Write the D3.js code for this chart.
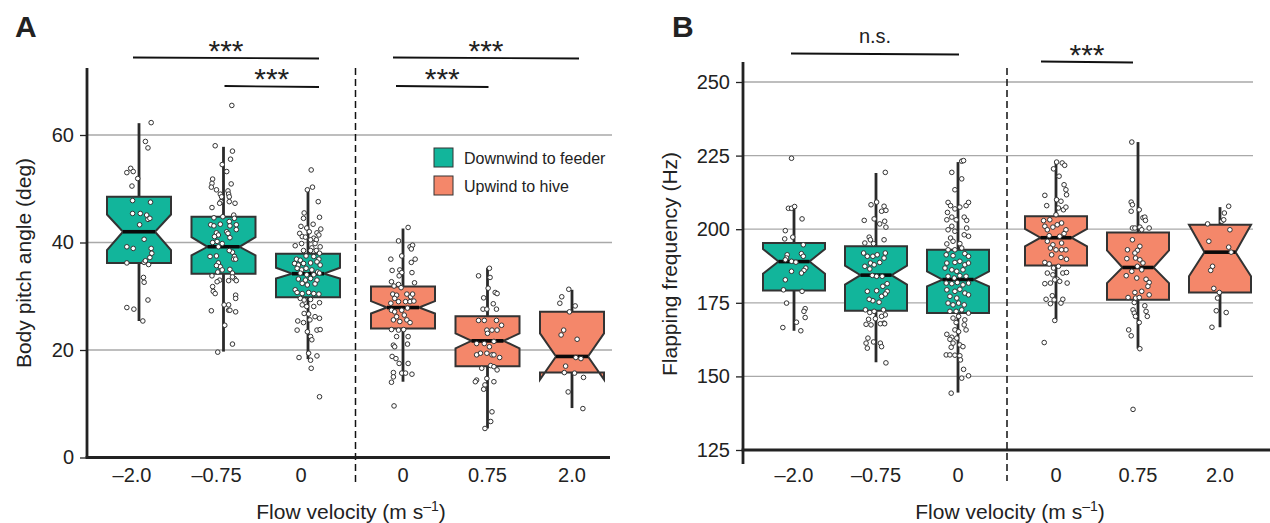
<!DOCTYPE html>
<html><head><meta charset="utf-8">
<script src="https://cdn.jsdelivr.net/npm/d3@7"></script>
<style>
body{margin:0;background:#fff}
svg{display:block}
text{font-family:"Liberation Sans",Arial,Helvetica,sans-serif;fill:#222}
</style>
</head><body>
<svg id="chart" width="1270" height="523"></svg>
<script>
// ---------------- DATA ----------------
const catsDown = ["\u20132.0", "\u20130.75", "0"];
const catsUp = ["0", "0.75", "2.0"];
const groupNames = ["Downwind to feeder", "Upwind to hive"];
const yTicksA = [0, 20, 40, 60];
const yTicksB = [125, 150, 175, 200, 225, 250];

// Panel A: body pitch angle (deg), six boxes: 3 downwind then 3 upwind
const pitchQ1   = [36.2, 34.2, 29.8, 24.0, 17.0, 15.8];
const pitchMed  = [42.0, 39.2, 34.2, 27.9, 21.7, 18.8];
const pitchQ3   = [48.5, 44.8, 37.9, 31.8, 26.3, 27.1];
const pitchWLo  = [25.4, 19.7, 18.3, 14.1, 5.4, 9.2];
const pitchWHi  = [62.2, 57.8, 49.8, 42.6, 35.3, 31.2];
const pitchNLo  = [38.6, 37.6, 33.3, 26.8, 20.3, 14.5];
const pitchNHi  = [45.2, 41.0, 35.3, 29.1, 23.1, 23.1];

// Panel B: flapping frequency (Hz)
const freqQ1  = [179.2, 172.3, 171.5, 187.7, 176.0, 178.5];
const freqMed = [189.0, 184.4, 182.9, 197.1, 187.0, 192.2];
const freqQ3  = [195.3, 194.2, 193.0, 204.4, 198.9, 201.5];
const freqWLo = [165.5, 154.8, 144.5, 169.2, 159.4, 166.7];
const freqWHi = [207.0, 219.1, 222.8, 222.8, 229.6, 207.5];
const freqNLo = [184.9, 181.2, 180.6, 194.2, 181.7, 184.0];
const freqNHi = [193.3, 187.6, 185.7, 200.1, 192.8, 201.5];

// individual points: [jitter (fraction of box width), value]
const pitchPoints = [
 [[.19,62.3],[.10,58.8],[.14,57.6],[-.13,53.8],[-.19,53.0],[-.09,53.2],[-.02,51.9],[-.11,50.5],[-.10,47.8],[.18,47.5],[-.10,45.4],[.02,45.4],[.12,45.1],[.14,44.3],[.17,44.5],[.01,43.3],[.08,40.6],[-.19,39.2],[-.09,38.9],[.19,38.9],[.20,38.0],[.17,37.2],[-.19,36.2],[.08,36.3],[.15,35.9],[.10,36.6],[.07,33.5],[.08,32.6],[.14,29.3],[-.19,27.9],[-.08,27.6],[.06,25.4]],
 [[.13,65.5],[-.13,58.0],[.14,57.0],[.11,55.5],[-.02,54.5],[.05,53.2],[.12,50.9],[-.17,51.8],[-.18,51.0],[-.19,50.3],[-.11,49.8],[.07,49.6],[.08,49.0],[.09,48.5],[-.05,49.0],[-.03,48.5],[.18,47.3],[.09,47.6],[-.04,47.6],[-.06,47.3],[-.18,46.5],[.16,45.1],[.17,44.5],[-.15,44.6],[-.01,44.8],[.20,43.3],[.20,42.4],[.09,43.9],[.10,43.1],[-.20,43.3],[-.15,43.1],[-.05,43.4],[-.11,41.8],[-.08,41.4],[-.14,41.1],[.05,42.0],[.07,41.7],[.10,40.9],[-.10,40.2],[-.02,39.8],[-.17,40.0],[-.08,39.2],[.14,38.2],[.09,38.5],[.17,37.4],[-.11,37.5],[-.21,37.4],[.16,36.9],[.19,36.9],[-.08,36.2],[-.05,35.5],[-.11,35.7],[-.02,34.9],[-.18,33.8],[-.09,34.5],[.10,35.0],[.14,34.3],[.17,33.3],[.08,32.9],[-.06,33.0],[-.10,32.7],[.20,32.9],[.14,33.6],[-.17,31.8],[-.16,30.9],[-.13,30.5],[.19,30.2],[.19,29.6],[.08,28.4],[.01,28.4],[.08,27.4],[.19,27.1],[-.19,27.3],[.10,27.4],[.02,24.6],[.14,21.1],[-.09,19.6]],
 [[.05,53.5],[-.01,49.8],[.07,50.3],[.16,47.6],[-.06,45.5],[-.07,44.5],[.18,44.7],[.08,43.4],[-.11,43.0],[-.02,42.7],[.20,42.5],[-.13,41.7],[.02,42.0],[.14,41.8],[.17,41.4],[-.09,41.1],[-.04,41.0],[.09,40.8],[.04,40.5],[.13,40.5],[-.20,39.4],[-.10,39.8],[.11,39.8],[.19,39.2],[.06,39.0],[-.07,38.5],[.04,38.5],[.13,38.5],[.18,38.0],[-.18,36.9],[-.12,36.7],[-.03,37.5],[.09,37.4],[.17,36.9],[-.21,36.1],[-.15,35.8],[-.07,36.1],[.04,36.2],[.14,36.4],[.19,35.8],[-.17,35.2],[-.10,34.9],[-.03,35.2],[.06,34.9],[.15,34.5],[-.12,34.3],[-.02,34.0],[.09,34.0],[.18,34.3],[-.15,33.2],[-.04,33.0],[.04,33.3],[.14,33.0],[-.09,32.4],[-.01,32.1],[.11,32.3],[-.20,31.2],[-.17,30.7],[-.09,30.5],[.01,30.7],[.09,30.5],[.17,30.4],[-.12,29.6],[-.06,29.3],[.04,29.4],[.18,28.8],[-.09,28.4],[-.02,28.1],[.09,28.1],[-.06,26.8],[.01,26.7],[.11,26.2],[.18,25.9],[-.16,25.4],[-.07,25.1],[.03,25.6],[-.17,23.7],[.14,23.7],[.19,23.8],[-.01,23.4],[.04,22.5],[.06,21.9],[.01,19.4],[-.14,18.6],[.14,18.9],[.04,18.1],[.05,16.6],[.18,11.3]],
 [[.08,42.8],[-.07,40.3],[.11,39.2],[.15,39.5],[.13,38.8],[-.19,36.9],[-.02,37.5],[.19,36.9],[.13,36.3],[-.17,34.8],[-.05,34.9],[-.02,34.4],[-.06,33.8],[.14,34.4],[.18,32.5],[-.18,32.7],[-.14,31.9],[-.07,32.2],[-.03,31.6],[-.16,30.4],[-.10,30.2],[.06,30.4],[.12,29.9],[.15,30.4],[-.13,29.6],[-.19,28.7],[-.07,29.0],[.04,29.0],[.11,29.0],[.17,29.1],[-.18,27.4],[-.13,27.1],[-.02,27.4],[.07,27.8],[.02,26.5],[-.10,26.2],[-.15,25.6],[-.05,25.3],[.06,25.6],[.11,25.1],[-.18,23.8],[-.07,23.7],[.01,23.8],[-.10,22.5],[.08,22.5],[-.15,20.9],[-.13,20.6],[.07,21.1],[-.17,18.8],[-.11,18.4],[-.06,17.5],[.08,17.5],[-.15,15.8],[-.02,15.7],[.04,15.7],[.14,15.5],[-.15,15.0],[-.18,14.0],[-.14,9.6]],
 [[.03,35.2],[-.14,33.8],[.04,33.5],[.12,30.7],[.15,30.5],[-.06,29.7],[.01,31.5],[.09,28.6],[-.07,27.6],[-.01,27.6],[.14,27.6],[-.14,25.5],[-.05,25.5],[.14,25.5],[.22,24.6],[.15,23.7],[.07,23.7],[-.01,23.7],[.00,23.1],[-.17,21.2],[-.05,21.2],[.10,21.6],[.03,20.6],[-.11,19.4],[-.17,19.1],[-.01,19.4],[.07,19.1],[.10,19.1],[.19,18.6],[.05,17.1],[.10,16.9],[-.09,16.6],[.15,16.3],[-.17,14.4],[-.19,14.1],[-.01,14.7],[.10,14.1],[-.04,13.5],[-.06,12.7],[.07,8.5],[.05,6.7],[-.04,5.4]],
 [[-.05,31.3],[-.16,29.9],[-.19,28.7],[-.04,27.1],[.05,28.2],[-.13,23.7],[-.17,22.8],[.08,22.0],[.06,18.6],[.14,18.4],[-.10,17.0],[-.12,15.8],[.04,15.7],[.18,14.9],[-.06,12.2],[.17,9.1]]
];

const freqPoints = [
 [[-.04,224.1],[-.09,207.1],[-.04,207.1],[.01,207.7],[.13,203.5],[-.14,199.5],[-.02,197.3],[-.15,196.7],[.15,194.7],[-.11,191.3],[-.12,190.2],[-.14,189.6],[-.04,189.1],[.03,188.8],[.12,191.7],[.15,190.8],[.19,186.8],[.16,186.0],[.12,185.1],[-.04,185.7],[-.14,182.8],[-.17,179.4],[.13,178.9],[-.12,174.9],[.18,173.0],[.16,172.1],[.18,170.0],[.04,168.4],[-.18,166.6],[.11,165.5]],
 [[.15,219.3],[-.08,208.3],[.01,209.2],[.13,207.8],[.16,206.4],[.09,206.1],[-.19,203.0],[-.03,203.5],[.14,202.7],[.16,200.7],[.06,201.8],[-.11,197.3],[-.09,196.4],[-.18,195.3],[-.04,195.1],[.13,196.4],[-.20,191.9],[-.14,190.8],[-.05,190.8],[.02,191.3],[.15,191.9],[.13,190.2],[-.09,188.5],[-.03,187.9],[.06,188.7],[-.18,187.4],[-.10,186.5],[-.06,184.3],[.01,184.0],[.10,184.0],[.18,181.5],[.11,180.6],[-.14,178.9],[.01,179.1],[.18,178.9],[.15,178.0],[.09,177.2],[-.05,175.7],[.05,175.2],[-.11,176.2],[-.17,172.6],[-.10,171.7],[-.03,172.1],[.12,172.6],[.15,170.9],[-.12,169.4],[-.01,169.6],[.09,170.4],[.13,168.1],[-.16,167.7],[-.08,167.5],[.07,167.9],[.14,167.9],[-.13,163.0],[-.16,161.3],[-.04,161.7],[.07,161.3],[-.14,159.6],[.09,160.1],[.16,154.6]],
 [[-.10,219.3],[.06,223.1],[.09,223.3],[.06,217.1],[-.05,213.4],[-.16,209.1],[-.12,208.0],[-.05,206.9],[.03,207.5],[.13,208.0],[.17,209.1],[-.17,205.7],[-.10,204.1],[-.18,203.2],[-.03,203.2],[.10,204.1],[.14,203.0],[-.10,201.0],[-.16,199.8],[-.05,199.3],[.14,200.4],[.10,198.1],[-.12,197.0],[-.08,195.9],[-.18,195.0],[.03,195.1],[.17,197.6],[-.16,193.0],[-.05,193.0],[.06,193.6],[-.19,191.3],[-.08,191.0],[.11,191.7],[.17,190.8],[-.18,188.5],[-.05,188.7],[.03,189.1],[.11,187.9],[.17,188.5],[-.21,186.8],[-.10,186.2],[-.02,185.7],[.08,186.2],[-.16,184.0],[-.06,183.4],[.03,184.2],[.13,184.0],[-.19,181.7],[-.10,181.5],[-.01,181.9],[.08,181.1],[.17,181.7],[-.18,179.4],[-.05,178.9],[.03,179.6],[.11,178.3],[-.13,177.2],[-.02,176.6],[.17,177.7],[-.16,174.9],[-.08,174.3],[.01,174.9],[.10,174.3],[-.13,172.1],[-.03,172.1],[.06,172.6],[.17,171.5],[-.08,169.8],[.01,170.4],[.11,169.2],[-.03,168.3],[.10,167.5],[-.05,165.8],[.13,165.8],[.01,165.2],[-.18,164.3],[-.10,163.3],[-.02,163.0],[-.13,162.6],[-.08,161.3],[.03,160.7],[-.11,159.9],[.08,160.1],[-.19,157.3],[-.13,157.3],[-.05,157.2],[.03,157.0],[.04,155.6],[.06,149.4],[.17,150.2],[-.11,144.3],[.09,152.4]],
 [[.01,222.8],[.10,222.5],[.14,221.7],[-.04,220.5],[.05,218.0],[-.18,211.5],[.17,211.7],[.13,215.1],[.16,213.4],[.01,210.0],[.08,209.5],[-.15,208.0],[.04,207.2],[.12,206.6],[.16,207.5],[.00,204.9],[-.10,203.2],[-.20,202.9],[-.18,201.0],[-.14,199.8],[-.05,200.7],[.02,201.5],[.09,202.1],[.16,199.8],[.06,197.6],[.13,198.5],[-.11,197.8],[-.14,195.9],[-.05,194.7],[.09,195.3],[.16,193.0],[-.09,193.6],[.00,193.0],[.09,193.0],[.17,189.8],[.08,190.4],[-.07,191.3],[-.18,188.7],[-.11,188.2],[.04,187.4],[-.04,186.8],[-.14,185.1],[-.05,184.5],[.11,185.1],[.17,185.3],[.02,183.0],[.06,182.3],[-.02,182.8],[-.18,181.5],[-.09,181.7],[.18,181.7],[-.16,176.2],[-.06,177.4],[-.09,174.7],[.08,174.9],[.11,176.2],[-.03,176.0],[-.02,169.0],[-.19,161.5]],
 [[-.10,229.6],[-.11,209.2],[-.09,208.3],[-.11,206.1],[.02,206.6],[.08,203.9],[.11,204.1],[.12,203.0],[-.09,200.4],[-.05,200.4],[.03,200.7],[.18,200.4],[.06,199.8],[-.09,196.4],[.03,194.2],[-.01,192.8],[-.17,193.0],[-.05,191.9],[-.18,190.0],[-.04,190.2],[.03,189.6],[.08,188.5],[-.01,187.4],[.06,186.2],[-.10,185.7],[-.19,184.2],[-.02,183.4],[.13,183.0],[.18,181.9],[.16,180.6],[.06,178.9],[-.05,178.5],[.18,177.7],[-.16,176.8],[-.04,176.6],[.02,176.8],[-.06,175.1],[.11,174.0],[-.08,172.6],[-.06,171.5],[-.04,170.4],[.13,172.1],[.15,170.4],[.02,168.3],[-.15,165.8],[-.11,163.8],[.03,159.4],[-.08,138.8]],
 [[.14,207.8],[.07,205.5],[.03,202.7],[.06,203.2],[-.20,201.8],[.16,199.8],[-.18,195.9],[.14,193.9],[.18,192.2],[-.12,187.4],[-.15,186.0],[-.10,179.9],[-.01,178.5],[-.04,176.6],[-.06,172.3],[.10,171.7],[-.13,166.7]]
];

// significance brackets: [from box index, to box index, label, level]
const sigA = [[0, 2, "***", 0], [1, 2, "***", 1], [3, 5, "***", 0], [3, 4, "***", 1]];
const sigB = [[0, 2, "n.s.", 0], [3, 4, "***", 1]];

// ---------------- LAYOUT / STYLE ----------------
// bracket end offsets (px) relative to the box centres
const sigPadA = [[-6, 11], [1, 11], [-10, 7], [-7, 1]];
const sigPadB = [[-3, 1], [-15, -5]];
const colors = ["#12b59b", "#f4876a"];
const ink = "#222";
const font = '"Liberation Sans",Arial,Helvetica,sans-serif';

const svg = d3.select("#chart");

function drawPanel(cfg) {
  const g = svg.append("g");
  const y = cfg.y;
  const xL = d3.scalePoint().domain(catsDown).range(cfg.leftRange);
  const xR = d3.scalePoint().domain(catsUp).range(cfg.rightRange);
  const allCats = catsDown.map(c => ({c, g: 0, x: xL(c)}))
    .concat(catsUp.map(c => ({c, g: 1, x: xR(c)})));
  const w = cfg.boxW;

  // gridlines
  g.selectAll(".grid").data(cfg.ticks.filter(t => t !== cfg.ticks[0])).enter()
    .append("line")
    .attr("x1", cfg.axisX).attr("x2", cfg.gridRight)
    .attr("y1", d => y(d)).attr("y2", d => y(d))
    .attr("stroke", "#a9a9a9").attr("stroke-width", 1.3);

  // y axis ticks and labels
  const ax = g.append("g").attr("transform", `translate(${cfg.axisX},0)`)
    .call(d3.axisLeft(y).tickValues(cfg.ticks).tickSize(7).tickPadding(6).tickFormat(d3.format("d")));
  ax.select(".domain").remove();
  ax.selectAll(".tick line").attr("stroke", ink).attr("stroke-width", 1.3);
  ax.selectAll(".tick text").attr("font-family", font).attr("font-size", 20).attr("fill", ink);

  // dashed divider
  const divX = (xL(catsDown[2]) + xR(catsUp[0])) / 2;
  g.append("line").attr("x1", divX).attr("x2", divX)
    .attr("y1", cfg.dashTop).attr("y2", cfg.dashBottom)
    .attr("stroke", "#111").attr("stroke-width", 1.5).attr("stroke-dasharray", "7,4");

  // whiskers
  allCats.forEach((d, i) => {
    const s = cfg.stats;
    g.append("line").attr("x1", d.x).attr("x2", d.x)
      .attr("y1", y(s.q3[i])).attr("y2", y(s.wHi[i]))
      .attr("stroke", "#2a2a2a").attr("stroke-width", 2.8);
    g.append("line").attr("x1", d.x).attr("x2", d.x)
      .attr("y1", y(s.q1[i])).attr("y2", y(s.wLo[i]))
      .attr("stroke", "#2a2a2a").attr("stroke-width", 2.8);
  });

  // notched boxes
  allCats.forEach((d, i) => {
    const s = cfg.stats;
    const L = d.x - w / 2, R = d.x + w / 2, cl = d.x - w / 4, cr = d.x + w / 4;
    const pts = [[L, s.q1[i]], [R, s.q1[i]], [R, s.nLo[i]], [cr, s.med[i]], [R, s.nHi[i]], [R, s.q3[i]],
                 [L, s.q3[i]], [L, s.nHi[i]], [cl, s.med[i]], [L, s.nLo[i]]];
    g.append("path")
      .attr("d", "M" + pts.map(p => p[0] + "," + y(p[1])).join("L") + "Z")
      .attr("fill", colors[d.g]).attr("stroke", "#333").attr("stroke-width", 2)
      .attr("stroke-linejoin", "miter");
    g.append("line").attr("x1", cl).attr("x2", cr)
      .attr("y1", y(s.med[i])).attr("y2", y(s.med[i]))
      .attr("stroke", "#0a0a0a").attr("stroke-width", 3.6);
  });

  // points
  allCats.forEach((d, i) => {
    g.selectAll(null).data(cfg.points[i]).enter().append("circle")
      .attr("cx", p => d.x + p[0] * w).attr("cy", p => y(p[1]))
      .attr("r", 2.3).attr("fill", "#fff").attr("stroke", "#333").attr("stroke-width", 1);
  });

  // axes lines
  g.append("line").attr("x1", cfg.axisX).attr("x2", cfg.axisX)
    .attr("y1", cfg.yAxisTop).attr("y2", cfg.yAxisBottom)
    .attr("stroke", ink).attr("stroke-width", 2.8);
  g.append("line").attr("x1", cfg.axisX - 1.4).attr("x2", cfg.xAxisRight)
    .attr("y1", y(cfg.ticks[0])).attr("y2", y(cfg.ticks[0]))
    .attr("stroke", ink).attr("stroke-width", 2.8);

  // x tick labels
  g.selectAll(".xl").data(allCats).enter().append("text")
    .attr("x", d => d.x + cfg.labelShift[d.g]).attr("y", cfg.xLabelY)
    .attr("text-anchor", "middle").attr("font-size", 20).text(d => d.c);

  // x title
  const t = g.append("text").attr("x", cfg.titleX).attr("y", cfg.titleY)
    .attr("text-anchor", "middle").attr("font-size", 21);
  t.append("tspan").text("Flow velocity (m s");
  t.append("tspan").attr("font-size", 14).attr("dy", -8).text("\u20131");
  t.append("tspan").attr("dy", 8).text(")");

  // y title
  g.append("text").attr("transform", `translate(${cfg.yTitleX},${cfg.yTitleY}) rotate(-90)`)
    .attr("text-anchor", "middle").attr("font-size", 21).text(cfg.yTitle);

  // panel letter
  g.append("text").attr("x", cfg.letterX).attr("y", 37).attr("font-size", 30)
    .attr("font-weight", "bold").attr("fill", "#111").text(cfg.letter);

  // significance brackets
  cfg.sig.forEach((sg, k) => {
    const x1 = allCats[sg[0]].x + cfg.sigPad[k][0], x2 = allCats[sg[1]].x + cfg.sigPad[k][1];
    const ly = cfg.sigY[sg[3]];
    g.append("line").attr("x1", x1).attr("x2", x2).attr("y1", ly).attr("y2", ly + 1)
      .attr("stroke", "#111").attr("stroke-width", 1.8);
    const isStar = sg[2] === "***";
    g.append("text").attr("x", (x1 + x2) / 2).attr("y", isStar ? ly + 3 : ly - 10.5)
      .attr("text-anchor", "middle").attr("font-size", isStar ? 30 : 20).attr("fill", "#111")
      .text(sg[2]);
  });
}

drawPanel({
  letter: "A", letterX: 15,
  y: d3.scaleLinear().domain([0, 60]).range([457.5, 135]),
  ticks: yTicksA, axisX: 87, gridRight: 612, xAxisRight: 610,
  yAxisTop: 68, yAxisBottom: 457.5,
  leftRange: [139, 308], rightRange: [403, 572], boxW: 64,
  dashTop: 68, dashBottom: 484,
  stats: {q1: pitchQ1, med: pitchMed, q3: pitchQ3, wLo: pitchWLo, wHi: pitchWHi, nLo: pitchNLo, nHi: pitchNHi},
  points: pitchPoints,
  labelShift: [-7, 0], xLabelY: 482,
  titleX: 351, titleY: 519,
  yTitle: "Body pitch angle (deg)", yTitleX: 30.5, yTitleY: 263,
  sig: sigA, sigPad: sigPadA, sigY: [57.5, 86]
});

drawPanel({
  letter: "B", letterX: 672,
  y: d3.scaleLinear().domain([125, 250]).range([450, 82]),
  ticks: yTicksB, axisX: 743, gridRight: 1253, xAxisRight: 1270,
  yAxisTop: 62, yAxisBottom: 464,
  leftRange: [794, 958], rightRange: [1056, 1220], boxW: 62,
  dashTop: 68, dashBottom: 481,
  stats: {q1: freqQ1, med: freqMed, q3: freqQ3, wLo: freqWLo, wHi: freqWHi, nLo: freqNLo, nHi: freqNHi},
  points: freqPoints,
  labelShift: [0, 0], xLabelY: 482,
  titleX: 1010, titleY: 519,
  yTitle: "Flapping frequency (Hz)", yTitleX: 677, yTitleY: 264,
  sig: sigB, sigPad: sigPadB, sigY: [53.5, 61.5]
});

// legend (panel A)
const leg = svg.append("g");
groupNames.forEach((name, i) => {
  leg.append("rect").attr("x", 434).attr("y", 148 + i * 28).attr("width", 19).attr("height", 19)
    .attr("fill", colors[i]).attr("stroke", "#333").attr("stroke-width", 1);
  leg.append("text").attr("x", 464).attr("y", 164 + i * 28).attr("font-size", 16).text(name);
});
</script>
</body></html>
